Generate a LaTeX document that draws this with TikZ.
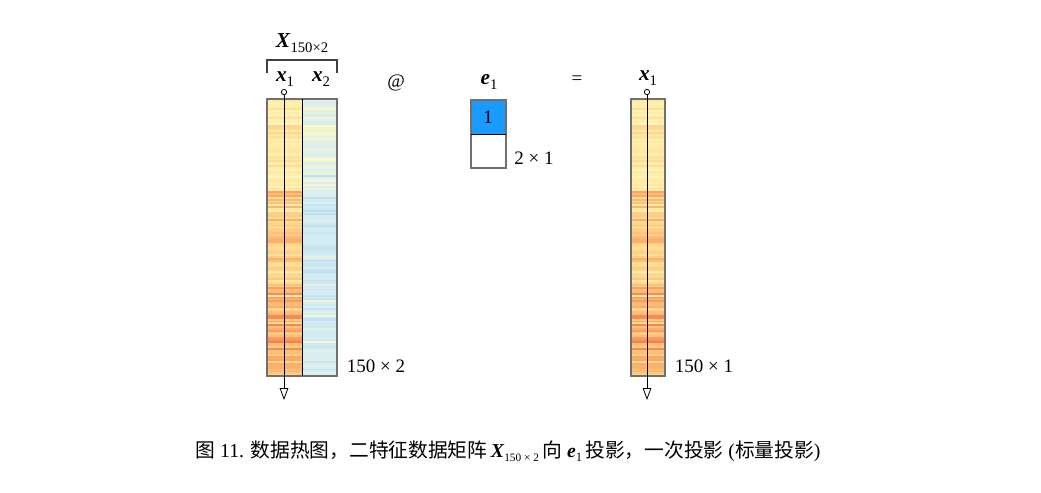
\documentclass[tikz,border=0pt]{standalone}
\usepackage{fontspec}
\setmainfont{Liberation Serif}
\newfontfamily\cjk{Noto Sans CJK SC}
\usetikzlibrary{arrows.meta}

\definecolor{hm2}{HTML}{B8DCEC}
\definecolor{hm3}{HTML}{D6EDF4}
\definecolor{hm4}{HTML}{FBF8CC}
\definecolor{hm5}{HTML}{FFEDA6}
\definecolor{hm6}{HTML}{FDCF84}
\definecolor{hm7}{HTML}{FAA564}
\definecolor{hm8}{HTML}{F57E50}
\definecolor{eblue}{RGB}{25,155,255}
\definecolor{frame}{HTML}{707070}

\newcommand\bvec[1]{\textbf{\textit{#1}}}
\newcommand\vsub[3][11]{\bvec{#2}\raisebox{-0.45ex}{\fontsize{#1}{#1}\selectfont #3}}

% iris: sepal length / sepal width
\newcommand\colA{5.1,4.9,4.7,4.6,5.0,5.4,4.6,5.0,4.4,4.9,5.4,4.8,4.8,4.3,5.8,5.7,5.4,5.1,5.7,5.1,5.4,5.1,4.6,5.1,4.8,5.0,5.0,5.2,5.2,4.7,4.8,5.4,5.2,5.5,4.9,5.0,5.5,4.9,4.4,5.1,5.0,4.5,4.4,5.0,5.1,4.8,5.1,4.6,5.3,5.0,7.0,6.4,6.9,5.5,6.5,5.7,6.3,4.9,6.6,5.2,5.0,5.9,6.0,6.1,5.6,6.7,5.6,5.8,6.2,5.6,5.9,6.1,6.3,6.1,6.4,6.6,6.8,6.7,6.0,5.7,5.5,5.5,5.8,6.0,5.4,6.0,6.7,6.3,5.6,5.5,5.5,6.1,5.8,5.0,5.6,5.7,5.7,6.2,5.1,5.7,6.3,5.8,7.1,6.3,6.5,7.6,4.9,7.3,6.7,7.2,6.5,6.4,6.8,5.7,5.8,6.4,6.5,7.7,7.7,6.0,6.9,5.6,7.7,6.3,6.7,7.2,6.2,6.1,6.4,7.2,7.4,7.9,6.4,6.3,6.1,7.7,6.3,6.4,6.0,6.9,6.7,6.9,5.8,6.8,6.7,6.7,6.3,6.5,6.2,5.9}
\newcommand\colB{3.5,3.0,3.2,3.1,3.6,3.9,3.4,3.4,2.9,3.1,3.7,3.4,3.0,3.0,4.0,4.4,3.9,3.5,3.8,3.8,3.4,3.7,3.6,3.3,3.4,3.0,3.4,3.5,3.4,3.2,3.1,3.4,4.1,4.2,3.1,3.2,3.5,3.6,3.0,3.4,3.5,2.3,3.2,3.5,3.8,3.0,3.8,3.2,3.7,3.3,3.2,3.2,3.1,2.3,2.8,2.8,3.3,2.4,2.9,2.7,2.0,3.0,2.2,2.9,2.9,3.1,3.0,2.7,2.2,2.5,3.2,2.8,2.5,2.8,2.9,3.0,2.8,3.0,2.9,2.6,2.4,2.4,2.7,2.7,3.0,3.4,3.1,2.3,3.0,2.5,2.6,3.0,2.6,2.3,2.7,3.0,2.9,2.9,2.5,2.8,3.3,2.7,3.0,2.9,3.0,3.0,2.5,2.9,2.5,3.6,3.2,2.7,3.0,2.5,2.8,3.2,3.0,3.8,2.6,2.2,3.2,2.8,2.8,2.7,3.3,3.2,2.8,3.0,2.8,3.0,2.8,3.8,2.8,2.8,2.6,3.0,3.4,3.1,3.0,3.1,3.1,3.1,2.7,3.2,3.3,3.0,2.5,3.0,3.4,3.0}

\begin{document}
\begin{tikzpicture}[x=0.75pt, y=-0.75pt,
  every node/.style={font=\fontsize{14.25}{17}\selectfont, inner sep=0pt},
  veclabel/.style={font=\fontsize{16}{18}\selectfont},
  outer/.style={draw=frame, line width=1.1pt},
  divider/.style={draw=black, line width=0.7pt},
  vecline/.style={line width=0.6pt, {Circle[open, length=4.6pt, width=4.6pt]}-{Triangle[open, length=9pt, width=6.5pt, fill=white]}},
  brace/.style={draw=black!75, line width=0.9pt}]
\path[use as bounding box] (0,0) rectangle (1041,492);
\def\rowh{1.8467}

% heat map stripes
\foreach \va [count=\i] in \colA {
  \pgfmathtruncatemacro\lo{\va}
  \pgfmathtruncatemacro\hi{\lo+1}
  \pgfmathtruncatemacro\pc{round(100*(\va-\lo))}
  \colorlet{cellc}{hm\hi!\pc!hm\lo}
  \fill[cellc] (267,{99+(\i-1)*\rowh}) rectangle (302,{99+\i*\rowh+0.3});
  \fill[cellc] (631,{99+(\i-1)*\rowh}) rectangle (665,{99+\i*\rowh+0.3});
}
\foreach \vb [count=\i] in \colB {
  \pgfmathtruncatemacro\lo{\vb}
  \pgfmathtruncatemacro\hi{\lo+1}
  \pgfmathtruncatemacro\pc{round(100*(\vb-\lo))}
  \colorlet{cellc}{hm\hi!\pc!hm\lo}
  \fill[cellc] (302,{99+(\i-1)*\rowh}) rectangle (337,{99+\i*\rowh+0.3});
}

% frames
\draw[outer] (267,99) rectangle (337,376);
\draw[divider] (302,99) -- (302,376);
\draw[outer] (631,99) rectangle (665,376);
\fill[eblue] (471,100) rectangle (506,134);
\draw[outer] (471,100) rectangle (506,168);
\draw[divider] (471,134) -- (506,134);

% labels
\node[veclabel] (Xname) at (302,43) {\vsub[11]{X}{150×2}};
\coordinate (bl) at (267,73);
\coordinate (br) at (337,73);
\draw[brace] (bl) -- ++(0,-13) -| (br);
\node[veclabel] (xa) at (285,79) {\vsub{x}{1}};
\node[veclabel] (xb) at (321,79) {\vsub{x}{2}};
\node (at) at (396,83) {@};
\node[veclabel] (ea) at (489,82) {\vsub{e}{1}};
\node (one) at (488,117) {1};
\node (dimE) at (534,158) {2 × 1};
\node (eq) at (577,80) {=};
\node[veclabel] (xr) at (648,78) {\vsub{x}{1}};
\node (dimX) at (376,366) {150 × 2};
\node (dimY) at (704,366) {150 × 1};

% vectors
\coordinate (xatop) at (284,89);
\coordinate (xaend) at (284,400);
\coordinate (xrtop) at (647,89);
\coordinate (xrend) at (647,400);
\draw[vecline] (xatop) -- (xaend);
\draw[vecline] (xrtop) -- (xrend);

\node[font=\fontsize{14.8}{17}\selectfont] (cap) at (508,451) {{\cjk 图} 11. {\cjk 数据热图，二特征数据矩阵}\,\vsub[8.5]{X}{150 × 2}\,{\cjk 向} \vsub[9.5]{e}{1}\,{\cjk 投影，一次投影} ({\cjk 标量投影})};
\end{tikzpicture}
\end{document}
